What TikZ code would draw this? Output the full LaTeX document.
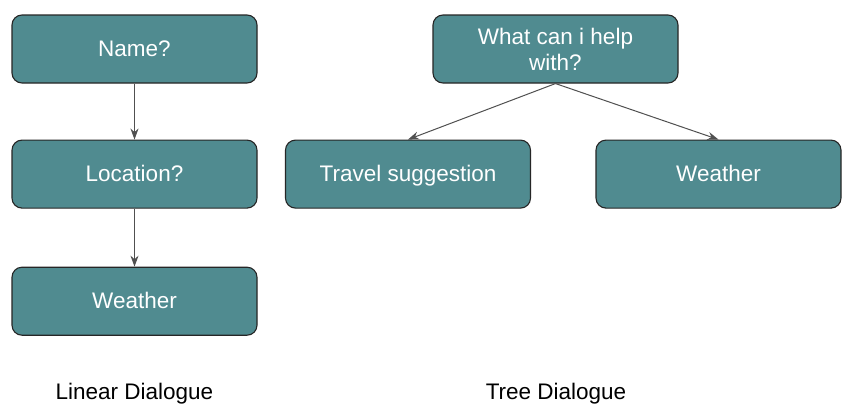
\documentclass[tikz,border=0pt]{standalone}
\usepackage{fontspec}
\setmainfont{Liberation Sans}
\usetikzlibrary{arrows.meta,positioning}
\definecolor{tealbox}{RGB}{80,139,144}
\definecolor{arrowgray}{RGB}{80,80,80}
\tikzset{
  block/.style={
    draw=black!85,
    fill=tealbox,
    rounded corners=10pt,
    line width=1.1pt,
    align=center,
    text=white,
    minimum width=245pt,
    minimum height=68pt,
    inner sep=4pt,
    font=\fontsize{22.5}{26}\selectfont
  },
  oneline/.style={text height=18pt, text depth=3pt},
  caption/.style={font=\fontsize{22.5}{26}\selectfont, text=black},
  line/.style={-{Stealth[length=11pt,width=8pt]}, arrowgray, line width=1pt}
}
\begin{document}
\begin{tikzpicture}[x=1pt,y=1pt,node distance=56pt]
        \fill[white] (0,0) rectangle (848,-418);
        \useasboundingbox (0,0) rectangle (848,-418);
        % linear dialogue
        \node[block, oneline] (name) at (134.5,-49) {Name?};
        \node[block, oneline, below=of name] (location) {Location?};
        \node[block, oneline, below=58pt of location] (lweather) {Weather};
        \draw[line] (name.south) -- (location.north);
        \draw[line] (location.south) -- (lweather.north);
        % tree dialogue
        \node[block] (root) at (555.5,-49) {What can i help\\with?};
        \node[block, oneline, below=of root, xshift=-147.5pt] (travel) {Travel suggestion};
        \node[block, oneline, below=of root, xshift=163pt] (tweather) {Weather};
        \draw[line] (root.south) -- (travel.north);
        \draw[line] (root.south) -- (tweather.north);
        % captions
        \node[caption] (linear) at (134.5,-394) {Linear Dialogue};
        \node[caption] (tree) at (556,-394) {Tree Dialogue};
      \end{tikzpicture}
\end{document}
